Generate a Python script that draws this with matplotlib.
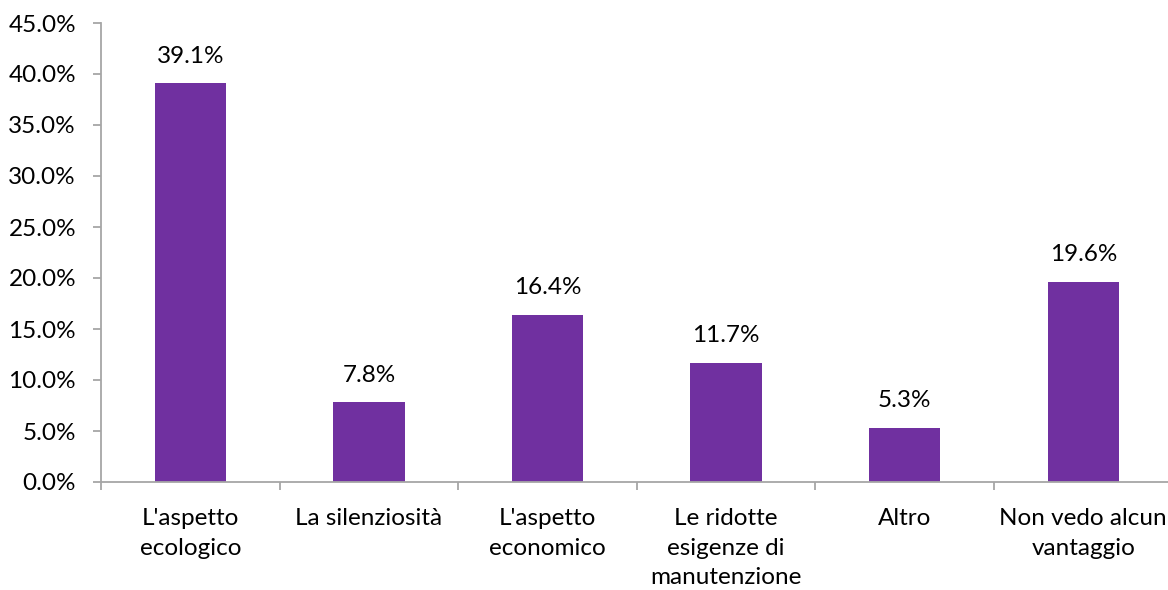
import matplotlib
matplotlib.use("Agg")
import matplotlib.pyplot as plt
from matplotlib.ticker import FuncFormatter, MultipleLocator

categories = ["L'aspetto\necologico", "La silenziosità", "L'aspetto\neconomico",
              "Le ridotte\nesigenze di\nmanutenzione", "Altro", "Non vedo alcun\nvantaggio"]
values = [39.1, 7.8, 16.4, 11.7, 5.3, 19.6]
labels = ["39.1%", "7.8%", "16.4%", "11.7%", "5.3%", "19.6%"]

plt.rcParams['font.family'] = ['Lato', 'DejaVu Sans']
FS = 17.5
bar_color = "#7030A0"
axis_color = "#A6A6A6"

fig = plt.figure(figsize=(11.68, 5.90), dpi=100)
W, H = 1168, 590
left, right, top, bottom = 101, 101 + 6 * 178.6, 23, 482
ax = fig.add_axes([left / W, 1 - bottom / H, (right - left) / W, (bottom - top) / H])

x = list(range(len(categories)))
ax.bar(x, values, width=0.4, color=bar_color, zorder=2)
for xi, v, lab in zip(x, values, labels):
    ax.annotate(lab, (xi, v), xytext=(0, 12), textcoords="offset points",
                ha="center", va="bottom", fontsize=FS, color="#000000")

ax.set_xlim(-0.5, 5.5)
ax.set_ylim(0, 45)
ax.yaxis.set_major_locator(MultipleLocator(5))
ax.yaxis.set_major_formatter(FuncFormatter(lambda v, p: f"{v:.1f}%"))

for s in ["top", "right"]:
    ax.spines[s].set_visible(False)
for s in ["left", "bottom"]:
    ax.spines[s].set_color(axis_color)
    ax.spines[s].set_linewidth(1.3)

ax.tick_params(axis="y", direction="out", length=6, width=1.3, color=axis_color,
               labelsize=FS, pad=12)
ax.set_xticks([i - 0.5 for i in range(len(categories) + 1)])
ax.set_xticklabels([])
ax.tick_params(axis="x", direction="out", length=6, width=1.3, color=axis_color)
ax.set_xticks(x, minor=True)
ax.set_xticklabels(categories, minor=True, fontsize=FS, linespacing=1.5)
ax.tick_params(axis="x", which="minor", length=0, pad=19)

fig.savefig("out.png", dpi=100)
